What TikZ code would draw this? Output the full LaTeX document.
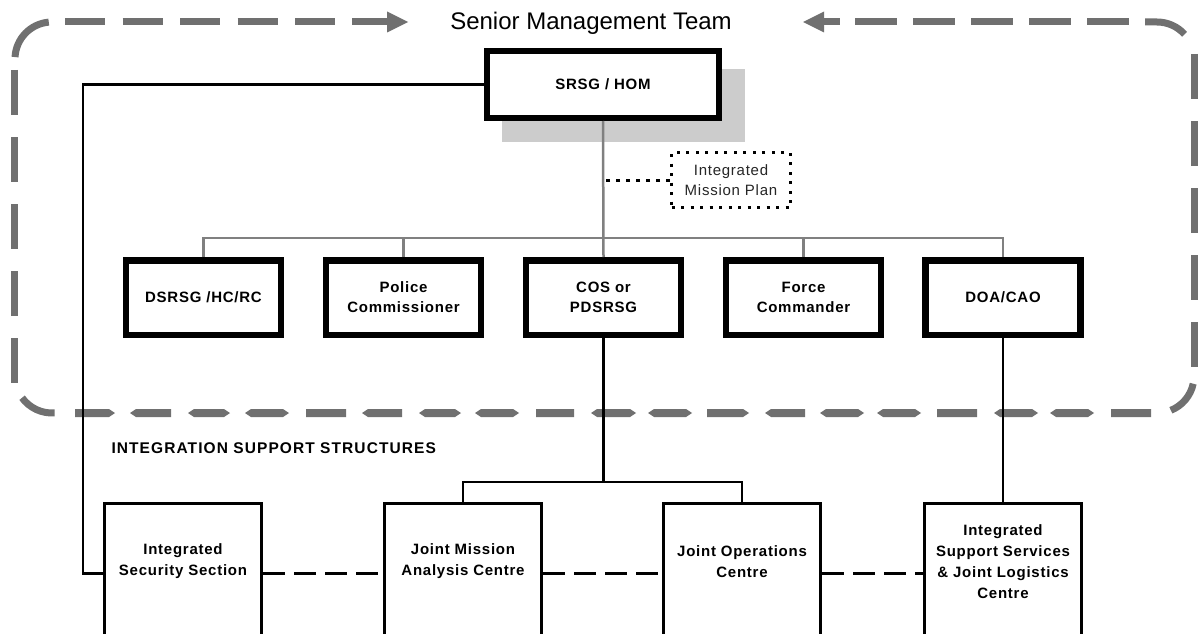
\documentclass[tikz,border=0pt]{standalone}
\usepackage{fontspec}
\setmainfont{Liberation Sans}
\newfontfamily\lblfont[LetterSpace=5]{Liberation Sans}
\newfontfamily\headfont[LetterSpace=7]{Liberation Sans}

\definecolor{bordergray}{RGB}{112,112,112}
\definecolor{treegray}{RGB}{128,128,128}
\definecolor{shadowgray}{RGB}{204,204,204}

\tikzset{
  lbl/.style={font=\lblfont\bfseries\fontsize{15}{20}\selectfont, align=center},
  plain/.style={font=\lblfont\fontsize{15}{20}\selectfont, align=center, text=black!85},
  headbox/.style={draw, line width=6pt, minimum width=232pt, minimum height=67pt,
    inner sep=0pt, fill=white, lbl},
  rowbox/.style={draw, line width=6.5pt, minimum width=155pt, minimum height=74.5pt,
    inner sep=0pt, fill=white, lbl},
  lowbox/.style={draw, line width=3pt, minimum width=157pt, minimum height=140pt,
    inner sep=0pt, fill=white},
  lowtext/.style={font=\lblfont\bfseries\fontsize{15}{21}\selectfont, align=center},
  planbox/.style={draw, line width=3pt, dash pattern=on 3pt off 6.5pt,
    minimum width=119pt, minimum height=55pt, inner sep=0pt, plain},
  tree/.style={draw=treegray, line width=2.5pt},
  link/.style={draw=black, line width=2.8pt},
  dashlink/.style={draw=black, line width=3.5pt, dash pattern=on 22pt off 9pt},
  dotlink/.style={draw=black, line width=3pt, dash pattern=on 4pt off 6pt},
  rim/.style={draw=bordergray, line width=7pt},
}

\begin{document}
\begin{tikzpicture}[x=1pt,y=-1pt]
\useasboundingbox (0,0) rectangle (1202,634);
\clip (0,0) rectangle (1202,634);
\fill[white] (0,0) rectangle (1202,634);

% ---------- Senior Management Team frame ----------
\node[font=\fontsize{24}{28}\selectfont] (smt) at (591,23) {Senior Management Team};

% top-left run with arrow pointing to the title
\foreach \a in {65,122.5,180,237.5,295}
  \draw[rim] (\a,22) -- (\a+40,22);
\draw[rim] (352,22) -- (390,22);
\fill[bordergray] (387,11.5) -- (408,22) -- (387,32.5) -- cycle;

% top-right run with arrow pointing to the title
\draw[rim] (822,22) -- (840,22);
\fill[bordergray] (824,11.5) -- (803,22) -- (824,32.5) -- cycle;
\foreach \a in {855,913,971,1029,1087}
  \draw[rim] (\a,22) -- (\a+42,22);

% corners
\draw[rim] (52,59) ++(183:37) arc (183:265:37);
\draw[rim] (1145,22) -- (1157,22) arc (270:318:37);
\draw[rim] (52,376) ++(144:37) arc (144:86:37);
\draw[rim] (1157,376) ++(12:37) arc (12:68:37);

% left and right sides
\foreach \a in {70,137,204,271,338}
  \draw[rim] (14,\a) -- (14,\a+45);
\foreach \a in {54,121,188,255,322}
  \draw[rim] (1194,\a) -- (1194,\a+45);

% bottom run: dashes with pointed ends
\foreach \a/\b/\l/\r in {75/115/0/1, 130/171/1/0, 188/230/1/1, 245/289/1/1,
    306/346/0/0, 362/402/1/0, 419/461/1/1, 475/519/1/1, 536/574/0/0,
    591/636/1/1, 648/692/1/1, 707/749/0/1, 765/805/1/0, 820/864/1/1,
    877/921/1/1, 937/977/0/0, 994/1038/1/1, 1050/1094/1/1, 1111/1151/0/0}
  \fill[bordergray] (\a+6*\l,409) -- (\a,413) -- (\a+6*\l,417)
     -- (\b-6*\r,417) -- (\b,413) -- (\b-6*\r,409) -- cycle;

% ---------- head of mission ----------
\fill[shadowgray] (502,69) rectangle (745,142);
\node[headbox] (srsg) at (603,84.5) {SRSG / HOM};

% ---------- senior management row ----------
\node[rowbox] (dsrsg)  at (203.5,297.5) {DSRSG /HC/RC};
\node[rowbox] (police) at (403.5,297.5) {Police\\Commissioner};
\node[rowbox] (cos)    at (603.5,297.5) {COS or\\PDSRSG};
\node[rowbox] (force)  at (803.5,297.5) {Force\\Commander};
\node[rowbox] (doa)    at (1003,297.5)  {DOA/CAO};

\coordinate (bus) at (603,238);
\draw[tree] (srsg.south) -- (cos.north);
\draw[tree] (dsrsg.north) |- (bus);
\draw[tree] (police.north) |- (bus);
\draw[tree] (force.north) |- (bus);
\draw[tree] (doa.north) |- (bus);

% integrated mission plan
\node[planbox] (imp) at (731,180) {Integrated\\Mission Plan};
\draw[dotlink] (imp.west) -- (imp.west -| srsg.south);

% ---------- integration support structures ----------
\node[font=\headfont\bfseries\fontsize{15.5}{20}\selectfont, anchor=west]
  (iss-title) at (108,448) {INTEGRATION SUPPORT STRUCTURES};

\node[lowbox] (isec) at (183,573.5) {};
\node[lowbox] (jmac) at (463,573.5) {};
\node[lowbox] (joc)  at (742,573.5) {};
\node[lowbox] (iss)  at (1003,573.5) {};

\node[lowtext] at ([yshift=12pt]isec.center) {Integrated\\Security Section};
\node[lowtext] at ([yshift=12pt]jmac.center) {Joint Mission\\Analysis Centre};
\node[lowtext] at ([yshift=12pt]joc.center)  {Joint Operations\\Centre};
\node[lowtext] at ([yshift=12pt]iss.center)  {Integrated\\Support Services\\\& Joint Logistics\\Centre};

\draw[dashlink] (isec.east) -- (jmac.west);
\draw[dashlink] (jmac.east) -- (joc.west);
\draw[dashlink] (joc.east) -- (iss.west);

% reporting lines
\coordinate (secbend) at (83,573.5);
\draw[link] (srsg.west) -| (secbend) -- (isec.west);
\coordinate (fork) at (603.5,482);
\draw[link] (cos.south) -- (fork);
\draw[link] (jmac.north) |- (fork) -| (joc.north);
\draw[link] (doa.south) -- (iss.north);
\end{tikzpicture}
\end{document}
